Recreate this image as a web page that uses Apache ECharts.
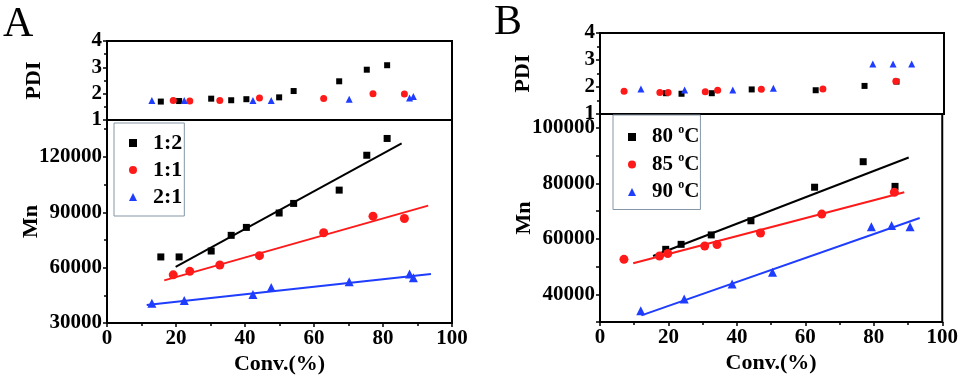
<!DOCTYPE html>
<html>
<head>
<meta charset="utf-8">
<script src="https://cdn.jsdelivr.net/npm/echarts@6/dist/echarts.min.js"></script>
<style>
  html, body { margin: 0; padding: 0; background: #fff; }
  #chart { width: 961px; height: 380px; }
</style>
</head>
<body>
<div id="chart"></div>
<script>
// panel A: monomer ratio series
var aNames = ['1:2', '1:1', '2:1'];
var aConv12 = [15.6, 20.9, 30.2, 36.0, 40.4, 49.9, 54.1, 67.3, 75.3, 81.2];
var aMn12 = [65800, 65800, 69000, 77500, 81800, 89600, 94800, 102000, 120900, 130000];
var aPdi12 = [1.70, 1.72, 1.81, 1.75, 1.79, 1.86, 2.10, 2.47, 2.91, 3.08];
var aConv11 = [19.2, 24.0, 32.7, 44.2, 62.8, 77.1, 86.2];
var aMn11 = [56100, 58000, 61400, 66500, 78900, 87900, 86600];
var aPdi11 = [1.74, 1.72, 1.74, 1.84, 1.82, 2.00, 1.99];
var aConv21 = [13.0, 22.4, 42.3, 47.6, 70.2, 87.7, 88.8];
var aMn21 = [40700, 42200, 45500, 49200, 52400, 56600, 54500];
var aPdi21 = [1.74, 1.74, 1.74, 1.74, 1.79, 1.84, 1.89];
// fitted lines, [start, end]
var aFitConv = [[19.9, 85.4], [16.6, 93.1], [11.5, 93.9]];
var aFitMn = [[60400, 127400], [53100, 93600], [39700, 56600]];

// panel B: temperature series
var bNames = ['80 °C', '85 °C', '90 °C'];
var bConv80 = [19.2, 23.7, 32.5, 44.1, 62.7, 76.9, 86.2];
var bMn80 = [56200, 58000, 61400, 66500, 78600, 87800, 78900];
var bPdi80 = [1.77, 1.75, 1.77, 1.91, 1.88, 2.04, 2.20];
var bConv85 = [7.0, 17.4, 19.8, 30.6, 34.2, 46.9, 64.8, 86.0];
var bMn85 = [52600, 53800, 54700, 57400, 57900, 62100, 68900, 76800];
var bPdi85 = [1.84, 1.80, 1.80, 1.82, 1.88, 1.92, 1.93, 2.21];
var bConv90 = [11.9, 24.6, 38.6, 50.4, 79.3, 85.2, 90.6];
var bMn90 = [34100, 38300, 43700, 47900, 64300, 64800, 64300];
var bPdi90 = [1.93, 1.89, 1.89, 1.95, 2.85, 2.85, 2.85];
var bFitConv = [[15.5, 90.2], [9.7, 88.9], [12.1, 93.4]];
var bFitMn = [[53800, 89300], [51200, 76800], [32400, 67500]];

var colors = ['#000000', '#ff1a1a', '#1f3dff'];
var symbols = ['rect', 'circle', 'triangle'];
var font = 'Liberation Serif';

function zip(xs, ys) {
    return xs.map(function (x, i) { return [x, ys[i]]; });
}

var txt = { color: '#000', fontFamily: font, fontWeight: 'bold', fontSize: 21 };
var line = { show: true, onZero: false, lineStyle: { color: '#000', width: 2 } };
var plain = function (v) { return String(v); };

function xAxis(grid, showLabels) {
    return {
        type: 'value', gridIndex: grid, min: 0, max: 100, interval: 20,
        axisLine: line,
        axisTick: { show: showLabels, length: 4, lineStyle: { width: 1.5, color: '#000' } },
        minorTick: { show: showLabels, splitNumber: 2, length: 3, lineStyle: { width: 1.5, color: '#000' } },
        axisLabel: Object.assign({ show: showLabels, margin: 5, formatter: plain }, txt),
        splitLine: { show: false },
        name: showLabels ? 'Conv.(%)' : '',
        nameLocation: 'middle', nameGap: 30, nameMoveOverlap: false,
        nameTextStyle: Object.assign({}, txt, { fontSize: 22 })
    };
}

function yAxis(grid, name, min, max, interval, opts) {
    return Object.assign({
        type: 'value', gridIndex: grid, min: min, max: max, interval: interval,
        axisLine: line,
        axisTick: { length: 4, lineStyle: { width: 1.5, color: '#000' } },
        minorTick: { show: true, splitNumber: 2, length: 3, lineStyle: { width: 1.5, color: '#000' } },
        axisLabel: Object.assign({ margin: 5, formatter: plain }, txt),
        splitLine: { show: false },
        name: name, nameLocation: 'middle', nameGap: 64, nameMoveOverlap: false,
        nameTextStyle: Object.assign({}, txt, { fontSize: 22 })
    }, opts || {});
}

var panels = [
    { names: aNames, conv: [aConv12, aConv11, aConv21], mn: [aMn12, aMn11, aMn21],
      pdi: [aPdi12, aPdi11, aPdi21], fitConv: aFitConv, fitMn: aFitMn },
    { names: bNames, conv: [bConv80, bConv85, bConv90], mn: [bMn80, bMn85, bMn90],
      pdi: [bPdi80, bPdi85, bPdi90], fitConv: bFitConv, fitMn: bFitMn }
];

var series = [];
panels.forEach(function (p, k) {
    var top = k * 2, bottom = k * 2 + 1;
    for (var i = 0; i < 3; i++) {
        series.push({
            name: p.names[i] + ' fit', type: 'line', xAxisIndex: bottom, yAxisIndex: bottom,
            data: zip(p.fitConv[i], p.fitMn[i]), symbol: 'none', silent: true,
            lineStyle: { color: colors[i], width: 2 }, z: 2
        });
    }
    for (var j = 0; j < 3; j++) {
        series.push({
            name: p.names[j], type: 'scatter', xAxisIndex: bottom, yAxisIndex: bottom,
            data: zip(p.conv[j], p.mn[j]), symbol: symbols[j],
            symbolSize: j === 0 ? 7 : 9, itemStyle: { color: colors[j], opacity: 1 }, z: 3
        });
        series.push({
            name: p.names[j], type: 'scatter', xAxisIndex: top, yAxisIndex: top,
            data: zip(p.conv[j], p.pdi[j]), symbol: symbols[j],
            symbolSize: j === 0 ? 6 : 7, itemStyle: { color: colors[j], opacity: 1 }, z: 3
        });
    }
});

var legendText = Object.assign({}, txt, { fontSize: 22, padding: [0, 0, 0, 11] });

var option = {
    animation: false,
    backgroundColor: '#fff',
    title: [
        { text: 'A', left: 3, top: 4, padding: 0,
          textStyle: { fontFamily: font, fontWeight: 'normal', fontSize: 42, color: '#000' } },
        { text: 'B', left: 494, top: 2, padding: 0,
          textStyle: { fontFamily: font, fontWeight: 'normal', fontSize: 42, color: '#000' } }
    ],
    grid: [
        { left: 107, top: 41, width: 345, height: 79, show: true, borderColor: '#000', borderWidth: 2 },
        { left: 107, top: 120, width: 345, height: 207, show: true, borderColor: '#000', borderWidth: 2 },
        { left: 600, top: 33, width: 344, height: 81, show: true, borderColor: '#000', borderWidth: 2 },
        { left: 600, top: 114, width: 344, height: 208, show: true, borderColor: '#000', borderWidth: 2 }
    ],
    xAxis: [xAxis(0, false), xAxis(1, true), xAxis(2, false), xAxis(3, true)],
    yAxis: [
        yAxis(0, 'PDI', 1, 4, 1, { nameGap: 62 }),
        yAxis(1, 'Mn', 30000, 140000, 30000, {
            nameGap: 65,
            axisLabel: Object.assign({ margin: 5, showMaxLabel: false, formatter: plain }, txt)
        }),
        yAxis(2, 'PDI', 1, 4, 1, { nameGap: 66 }),
        yAxis(3, 'Mn', 30000, 105000, 10000, {
            nameGap: 65,
            minorTick: { show: false },
            axisLabel: Object.assign({
                margin: 5,
                formatter: function (v) { return v % 20000 === 0 ? String(v) : ''; }
            }, txt)
        })
    ],
    legend: [
        {
            data: aNames.map(function (n, i) { return { name: n, icon: symbols[i] }; }),
            orient: 'vertical', left: 114, top: 123, itemGap: 5,
            itemWidth: 8, itemHeight: 8, padding: [9, 2, 8, 15],
            backgroundColor: '#fff', borderColor: '#8596a6', borderWidth: 1,
            textStyle: legendText, selectedMode: false
        },
        {
            data: bNames.map(function (n, i) { return { name: n, icon: symbols[i] }; }),
            orient: 'vertical', left: 613, top: 115, itemGap: 4,
            itemWidth: 8, itemHeight: 8, padding: [9, 1, 7, 15],
            backgroundColor: '#fff', borderColor: '#8596a6', borderWidth: 1,
            formatter: function (n) { return '{t|' + n.replace(' °C', ' ') + '}{s|o}{t|C}'; },
            textStyle: Object.assign({}, legendText, {
                rich: {
                    t: { fontFamily: font, fontWeight: 'bold', fontSize: 21, color: '#000' },
                    s: { fontFamily: font, fontWeight: 'bold', fontSize: 12, color: '#000', padding: [0, 0, 14, 0] }
                }
            }),
            selectedMode: false
        }
    ],
    series: series
};

echarts.init(document.getElementById('chart')).setOption(option);
</script>
</body>
</html>
